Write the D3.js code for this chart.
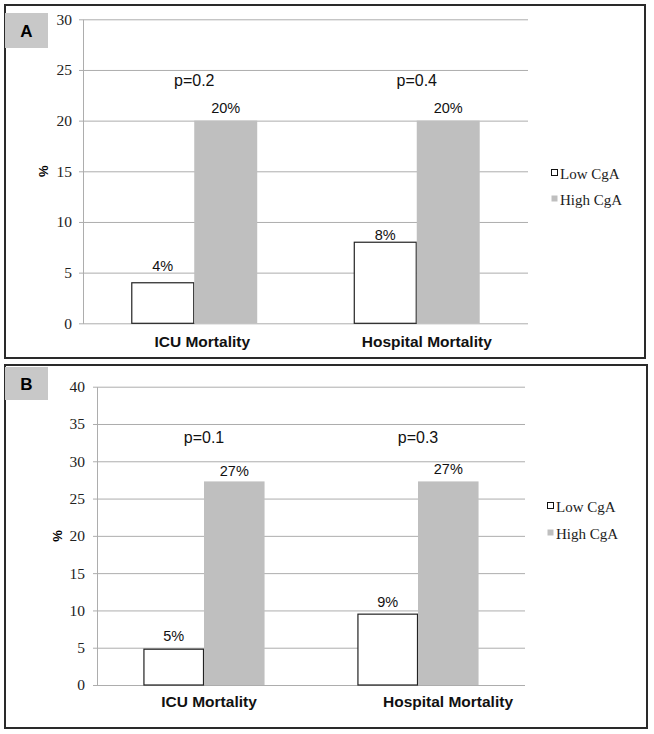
<!DOCTYPE html>
<html>
<head>
<meta charset="utf-8">
<script src="https://cdn.jsdelivr.net/npm/d3@7/dist/d3.min.js"></script>
<style>
  html, body { margin: 0; padding: 0; background: #fff; }
  svg { display: block; }
</style>
</head>
<body>
<svg id="chart" width="654" height="734"></svg>
<script>
// ---- data ----
const categories = ["ICU Mortality", "Hospital Mortality"];
const seriesNames = ["Low CgA", "High CgA"];

const lowA = [4, 8];
const highA = [20, 20];
const lowLabelsA = ["4%", "8%"];
const highLabelsA = ["20%", "20%"];
const pLabelsA = ["p=0.2", "p=0.4"];
const ticksA = [0, 5, 10, 15, 20, 25, 30];

const lowB = [4.8, 9.5];
const highB = [27.3, 27.3];
const lowLabelsB = ["5%", "9%"];
const highLabelsB = ["27%", "27%"];
const pLabelsB = ["p=0.1", "p=0.3"];
const ticksB = [0, 5, 10, 15, 20, 25, 30, 35, 40];

// ---- layout ----
const panels = [
  {
    tag: "A", low: lowA, high: highA, lowLabels: lowLabelsA, highLabels: highLabelsA,
    pLabels: pLabelsA, ticks: ticksA,
    frame: [5, 5, 645, 358], tagBox: [5, 13, 43, 35],
    left: 83, right: 528, top: 19.3, bottom: 323.3,
    pY: 23.4, catY: 347, catDx: [8, 10],
    lowGap: [12, 2], highGap: [8, 8],
    yLabelX: 43, legendX: 551, legendY: [179, 205], tickPad: 11
  },
  {
    tag: "B", low: lowB, high: highB, lowLabels: lowLabelsB, highLabels: highLabelsB,
    pLabels: pLabelsB, ticks: ticksB,
    frame: [5, 365, 647, 728], tagBox: [5, 367, 43, 33],
    left: 97, right: 525, top: 386.7, bottom: 685,
    pY: 32.4, catY: 707, catDx: [5, 30],
    lowGap: [8, 7], highGap: [5, 7],
    yLabelX: 57, legendX: 547, legendY: [512, 539], tickPad: 12
  }
];

const svg = d3.select("#chart");
const gridColor = "#adadad";
const highFill = "#bfbfbf";

panels.forEach(p => {
  const g = svg.append("g");
  const [fx0, fy0, fx1, fy1] = p.frame;
  g.append("rect").attr("x", fx0).attr("y", fy0).attr("width", fx1 - fx0).attr("height", fy1 - fy0)
    .attr("fill", "#fff").attr("stroke", "#2a2a2a").attr("stroke-width", 2);
  g.append("rect").attr("x", p.tagBox[0]).attr("y", p.tagBox[1]).attr("width", p.tagBox[2]).attr("height", p.tagBox[3])
    .attr("fill", "#c8c8c8");
  g.append("text").attr("x", p.tagBox[0] + p.tagBox[2] / 2).attr("y", p.tagBox[1] + p.tagBox[3] / 2 + 6)
    .attr("text-anchor", "middle").attr("font-family", "Liberation Sans, Arial, sans-serif")
    .attr("font-weight", "bold").attr("font-size", 17).text(p.tag);

  const y = d3.scaleLinear().domain([0, d3.max(p.ticks)]).range([p.bottom, p.top]);
  const x0 = d3.scaleBand().domain(categories).range([p.left, p.right]).padding(0);
  const bw = x0.bandwidth();
  const x1 = d3.scaleBand().domain(seriesNames).range([bw * 0.217, bw * 0.783]).padding(0);

  // gridlines + ticks
  const yAxis = d3.axisLeft(y).tickValues(p.ticks).tickSize(-(p.right - p.left)).tickPadding(p.tickPad).tickSizeOuter(0);
  const ag = g.append("g").attr("transform", `translate(${p.left},0)`).call(yAxis);
  ag.select(".domain").attr("stroke", gridColor);
  ag.selectAll(".tick line").attr("stroke", gridColor).attr("x1", -4);
  ag.selectAll(".tick text").attr("font-family", "Liberation Serif, Times New Roman, serif")
    .attr("font-size", 15.5).attr("fill", "#222");

  // y label
  g.append("text").attr("transform", `translate(${p.yLabelX},${(p.top + p.bottom) / 2}) rotate(-90)`)
    .attr("text-anchor", "middle").attr("dy", "0.35em")
    .attr("font-family", "Liberation Sans, Arial, sans-serif").attr("font-weight", "bold")
    .attr("font-size", 13).text("%");

  const rows = categories.map((c, i) => ({ c, i, vals: [p.low[i], p.high[i]] }));
  const cg = g.selectAll(".cat").data(rows).join("g").attr("transform", d => `translate(${x0(d.c)},0)`);

  cg.selectAll("rect").data(d => d.vals.map((v, j) => ({ s: seriesNames[j], v, j }))).join("rect")
    .attr("x", d => x1(d.s) + (d.j === 0 ? 0.5 : 0))
    .attr("y", d => y(d.v))
    .attr("width", d => x1.bandwidth() - (d.j === 0 ? 1 : 0))
    .attr("height", d => p.bottom - y(d.v))
    .attr("fill", d => d.j === 0 ? "#fff" : highFill)
    .attr("stroke", d => d.j === 0 ? "#222" : "none")
    .attr("stroke-width", 1.2);

  const sans = "Liberation Sans, Arial, sans-serif";
  // value labels
  cg.append("text").attr("x", x1("Low CgA") + x1.bandwidth() / 2)
    .attr("y", d => y(p.low[d.i]) - p.lowGap[d.i])
    .attr("text-anchor", "middle").attr("font-family", sans)
    .attr("font-size", 14.5).attr("fill", "#111").text(d => p.lowLabels[d.i]);
  cg.append("text").attr("x", x1("High CgA") + x1.bandwidth() / 2)
    .attr("y", d => y(p.high[d.i]) - p.highGap[d.i])
    .attr("text-anchor", "middle").attr("font-family", sans)
    .attr("font-size", 14.5).attr("fill", "#111").text(d => p.highLabels[d.i]);

  // p labels
  cg.append("text").attr("x", bw / 2).attr("y", y(p.pY))
    .attr("text-anchor", "middle").attr("font-family", sans)
    .attr("font-size", 16).attr("fill", "#111").text(d => p.pLabels[d.i]);

  // category labels
  cg.append("text").attr("x", d => bw / 2 + p.catDx[d.i]).attr("y", p.catY)
    .attr("text-anchor", "middle").attr("font-family", sans)
    .attr("font-weight", "bold").attr("font-size", 15.5).attr("fill", "#111").text(d => d.c);

  // legend
  seriesNames.forEach((s, j) => {
    const ly = p.legendY[j];
    g.append("rect").attr("x", p.legendX + 0.5).attr("y", ly - 9.5).attr("width", 6).attr("height", 6)
      .attr("fill", j === 0 ? "#fff" : highFill).attr("stroke", j === 0 ? "#111" : "none");
    g.append("text").attr("x", p.legendX + 9).attr("y", ly)
      .attr("font-family", "Liberation Serif, Times New Roman, serif").attr("font-size", 15)
      .attr("fill", "#222").text(s);
  });
});
</script>
</body>
</html>
